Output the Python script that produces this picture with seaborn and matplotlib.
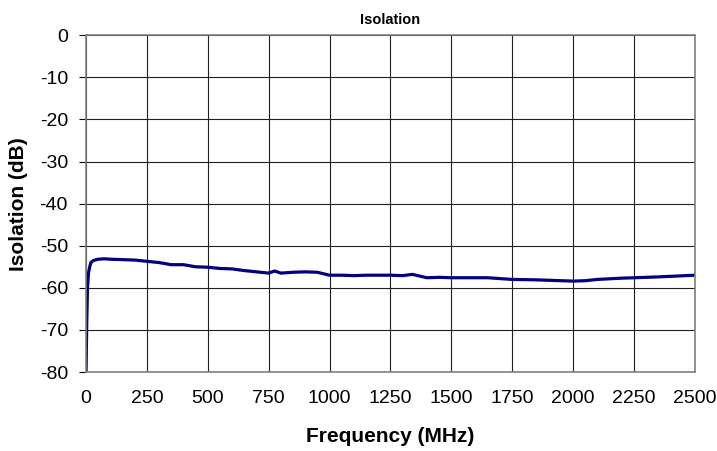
import numpy as np
import pandas as pd
import matplotlib
matplotlib.use('Agg')
import matplotlib.pyplot as plt
import seaborn as sns

# ─── DATA ─────────────────────────────────────────────────────────────────────
freq_mhz = [0, 3, 6, 10, 15, 20, 30, 50, 75, 100, 150, 200, 250, 300, 350, 400,
            450, 500, 550, 600, 650, 700, 750, 775, 800, 850, 900, 950, 1000,
            1050, 1100, 1150, 1200, 1250, 1300, 1340, 1400, 1450, 1500, 1600,
            1650, 1750, 1850, 1900, 2000, 2050, 2100, 2200, 2250, 2350, 2500]
isolation_db = [-80, -68, -60, -56.5, -55, -54, -53.5, -53.2, -53.1, -53.2,
                -53.3, -53.4, -53.7, -54.0, -54.5, -54.5, -55.0, -55.1, -55.4,
                -55.5, -55.9, -56.2, -56.5, -56.0, -56.5, -56.3, -56.2, -56.3,
                -57.0, -57.0, -57.1, -57.0, -57.0, -57.0, -57.1, -56.8, -57.6,
                -57.5, -57.6, -57.6, -57.6, -58.0, -58.1, -58.2, -58.4, -58.3,
                -58.0, -57.7, -57.6, -57.4, -57.0]

x_ticks = list(range(0, 2501, 250))
y_ticks = list(range(-80, 1, 10))

df = pd.DataFrame({'Frequency (MHz)': freq_mhz, 'Isolation (dB)': isolation_db})

# ─── PLOT ─────────────────────────────────────────────────────────────────────
sns.set_style('white', {'text.color': 'black', 'axes.labelcolor': 'black'})
plt.rcParams['font.family'] = ['Liberation Sans', 'DejaVu Sans']
plt.rcParams['axes.unicode_minus'] = False

fig = plt.figure(figsize=(7.17, 4.51), dpi=100)
ax = fig.add_axes([0.12, 0.175, 0.849, 0.747])

sns.lineplot(data=df, x='Frequency (MHz)', y='Isolation (dB)', ax=ax,
             color='#000080', linewidth=2.3)

ax.set_xlim(0, 2500)
ax.set_ylim(-80, 0)
ax.set_xticks(x_ticks)
ax.set_yticks(y_ticks)
ax.tick_params(axis='both', labelsize=14, colors='black')
ax.tick_params(axis='y', length=5, width=0.8, direction='out', left=True, pad=8)
ax.tick_params(axis='x', length=0, pad=13)
ax.grid(True, color='#202020', linewidth=0.8)
ax.set_axisbelow(True)
for s in ax.spines.values():
    s.set_color('#808080')
    s.set_linewidth(1.2)

ax.set_title('Isolation', fontsize=10.5, fontweight='bold', pad=8, color='black')
ax.set_xlabel('Frequency (MHz)', fontsize=15, fontweight='bold', labelpad=14, color='black')
ax.set_ylabel('Isolation (dB)', fontsize=15, fontweight='bold', labelpad=8, color='black')

plt.savefig('out.png', dpi=100)
